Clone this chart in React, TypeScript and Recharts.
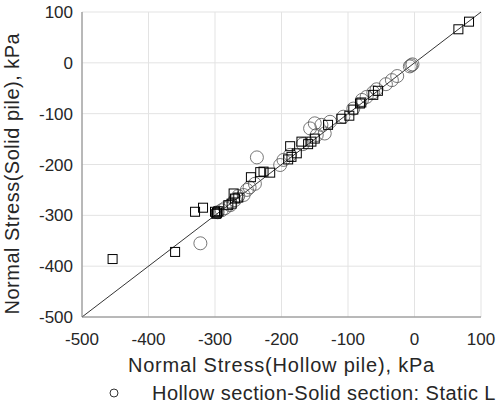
import {
  CartesianGrid,
  ReferenceLine,
  Scatter,
  ScatterChart,
  XAxis,
  YAxis,
} from "recharts";

// hollow vs solid normal stress, kPa
const hollowX = [
  -5, -7, -3, -26, -34, -43, -57, -62, -72, -79, -92, -107, -127, -140, -150,
  -157, -135, -147, -168, -187, -197, -202, -237, -252, -248, -257, -270, -285,
  -290, -277, -265, -322, -296, -240,
];
const solidY = [
  -5, -7, -3, -26, -34, -42, -52, -58, -67, -73, -90, -106, -116, -122, -119,
  -129, -139, -142, -160, -181, -191, -201, -186, -250, -245, -260, -270, -286,
  -290, -280, -262, -355, -294, -238,
];

const sqX = [
  82, 66, -62, -55, -82, -98, -92, -130, -150, -170, -160, -187, -177, -185,
  -190, -217, -227, -246, -232, -272, -270, -275, -265, -280, -300, -297, -295,
  -298, -330, -318, -360, -454, -155, -110, -80,
];
const sqY = [
  81, 66, -63, -55, -80, -104, -92, -122, -149, -155, -160, -164, -178, -185,
  -190, -216, -214, -225, -215, -257, -267, -277, -265, -280, -293, -295, -292,
  -297, -293, -285, -372, -386, -155, -110, -78,
];

const ticks = [-500, -400, -300, -200, -100, 0, 100];

const circleData = hollowX.map((x, i) => ({ x, y: solidY[i] }));
const squareData = sqX.map((x, i) => ({ x, y: sqY[i] }));

const FONT = "'Liberation Sans', Arial, sans-serif";

function CircleMark(props: any) {
  const { cx, cy } = props;
  return <circle cx={cx} cy={cy} r={6.5} fill="none" stroke="#555" strokeOpacity={0.8} strokeWidth={1} />;
}

function SquareMark(props: any) {
  const { cx, cy } = props;
  return <rect x={cx - 4.5} y={cy - 4.5} width={9} height={9} fill="none" stroke="#000" strokeWidth={1} />;
}

export default function App() {
  return (
    <div style={{ position: "absolute", left: 0, top: 0, width: 499, height: 409, overflow: "hidden", background: "#fff", fontFamily: FONT }}>
      <ScatterChart width={499} height={409} margin={{ top: 12, right: 18, left: 0, bottom: 0 }}>
        <CartesianGrid stroke="#e3e3e3" />
        <XAxis
          type="number"
          dataKey="x"
          domain={[-500, 100]}
          ticks={ticks}
          height={92}
          tickSize={0}
          tickMargin={16}
          tick={{ fill: "#262626", fontSize: 17, fontFamily: FONT }}
          stroke="#808080"
          label={{ value: "Normal Stress(Hollow pile), kPa", position: "insideTop", offset: 41, fill: "#262626", fontSize: 20, fontFamily: FONT, letterSpacing: 0.8 }}
        />
        <YAxis
          type="number"
          dataKey="y"
          domain={[-500, 100]}
          ticks={ticks}
          width={82}
          tickSize={0}
          tickMargin={9}
          tick={{ fill: "#262626", fontSize: 17, fontFamily: FONT }}
          stroke="#808080"
          label={{ value: "Normal Stress(Solid pile), kPa", angle: -90, position: "insideLeft", offset: 12, dy: 150, fill: "#262626", fontSize: 20, fontFamily: FONT, letterSpacing: 0.5 }}
        />
        <ReferenceLine
          segment={[{ x: -500, y: -500 }, { x: 100, y: 100 }]}
          stroke="#000"
          strokeWidth={0.8}
        />
        <Scatter name="Hollow section-Solid section: Static L" data={circleData} shape={CircleMark} isAnimationActive={false} />
        <Scatter name="squares" data={squareData} shape={SquareMark} isAnimationActive={false} />
      </ScatterChart>
      <div style={{ position: "absolute", left: 106, top: 381, height: 24, display: "flex", alignItems: "center", whiteSpace: "nowrap", fontSize: 20, letterSpacing: 0.45, color: "#262626" }}>
        <svg width={16} height={16} style={{ marginRight: 30 }}>
          <circle cx={8} cy={8} r={4} fill="none" stroke="#333" strokeWidth={1} />
        </svg>
        <span>Hollow section-Solid section: Static L</span>
      </div>
    </div>
  );
}
